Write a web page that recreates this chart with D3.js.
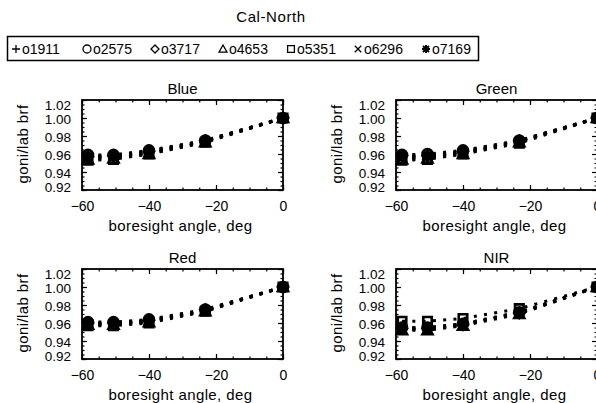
<!DOCTYPE html>
<html><head><meta charset="utf-8">
<script src="https://cdn.jsdelivr.net/npm/d3@7"></script>
<style>
html,body{margin:0;padding:0;background:#fff;}
text{font-family:"Liberation Sans",Arial,sans-serif;fill:#000;}
</style></head>
<body>
<svg id="c" width="596" height="403"></svg>
<script>
// ---------- data ----------
const chartTitle = "Cal-North";
const panelNames = ["Blue", "Green", "Red", "NIR"];
const seriesNames = ["o1911", "o2575", "o3717", "o4653", "o5351", "o6296", "o7169"];
const seriesSymbols = ["plus", "circle", "diamond", "triangle", "square", "x", "asterisk"];
const angles = [-58.2, -50.6, -40.0, -23.2, 0];
const xTickValues = [-60, -40, -20, 0];
const yTickValues = [0.92, 0.94, 0.96, 0.98, 1.00, 1.02];
const xLabel = "boresight angle, deg";
const yLabel = "goni/lab brf";

const blueValues = [
  [0.956, 0.957, 0.962, 0.974, 1.000],
  [0.959, 0.959, 0.964, 0.975, 1.000],
  [0.957, 0.958, 0.963, 0.975, 1.000],
  [0.954, 0.955, 0.960, 0.973, 1.000],
  [0.953, 0.954, 0.960, 0.973, 1.000],
  [0.957, 0.958, 0.962, 0.975, 1.000],
  [0.956, 0.957, 0.961, 0.974, 1.000]
];
const greenValues = [
  [0.956, 0.957, 0.962, 0.974, 1.000],
  [0.959, 0.960, 0.964, 0.975, 1.000],
  [0.958, 0.958, 0.963, 0.975, 1.000],
  [0.954, 0.955, 0.960, 0.973, 1.000],
  [0.953, 0.954, 0.960, 0.972, 1.000],
  [0.957, 0.958, 0.962, 0.974, 1.000],
  [0.956, 0.957, 0.961, 0.974, 1.000]
];
const redValues = [
  [0.959, 0.959, 0.962, 0.974, 1.000],
  [0.961, 0.961, 0.964, 0.975, 1.000],
  [0.960, 0.960, 0.963, 0.975, 1.000],
  [0.958, 0.958, 0.961, 0.973, 1.000],
  [0.957, 0.957, 0.960, 0.973, 1.000],
  [0.959, 0.960, 0.962, 0.974, 1.000],
  [0.958, 0.959, 0.962, 0.974, 1.000]
];
const nirValues = [
  [0.953, 0.953, 0.958, 0.971, 1.000],
  [0.955, 0.955, 0.959, 0.972, 1.000],
  [0.954, 0.954, 0.958, 0.971, 1.000],
  [0.952, 0.952, 0.957, 0.970, 1.000],
  [0.962, 0.962, 0.965, 0.976, 1.000],
  [0.954, 0.955, 0.959, 0.972, 1.000],
  [0.953, 0.953, 0.958, 0.971, 1.000]
];
const panelValues = [blueValues, greenValues, redValues, nirValues];

// ---------- layout ----------
const svg = d3.select("#c");
const panelLeft = [82, 396, 82, 396];
const panelTop = [100, 100, 269, 269];
const PW = 201, PH = 90;

function symPath(type, r) {
  const p = d3.path();
  switch (type) {
    case "plus": p.moveTo(-r,0); p.lineTo(r,0); p.moveTo(0,-r); p.lineTo(0,r); break;
    case "circle": p.moveTo(r,0); p.arc(0,0,r,0,2*Math.PI); break;
    case "diamond": p.moveTo(0,-r); p.lineTo(r,0); p.lineTo(0,r); p.lineTo(-r,0); p.closePath(); break;
    case "triangle": p.moveTo(0,-r); p.lineTo(r,r*0.8); p.lineTo(-r,r*0.8); p.closePath(); break;
    case "square": { const s=r*0.85; p.moveTo(-s,-s); p.lineTo(s,-s); p.lineTo(s,s); p.lineTo(-s,s); p.closePath(); break; }
    case "x": { const s=r*0.8; p.moveTo(-s,-s); p.lineTo(s,s); p.moveTo(s,-s); p.lineTo(-s,s); break; }
    case "asterisk": { const s=r*0.75; p.moveTo(-r,0); p.lineTo(r,0); p.moveTo(0,-r); p.lineTo(0,r);
      p.moveTo(-s,-s); p.lineTo(s,s); p.moveTo(s,-s); p.lineTo(-s,s); break; }
  }
  return p.toString();
}

// title
svg.append("text").attr("x", 271).attr("y", 22).attr("text-anchor", "middle")
  .attr("font-size", 15).attr("letter-spacing", 0.6).text(chartTitle);

// legend
const legendX = [16, 87, 155, 223, 291, 358, 426];
svg.append("rect").attr("x", 7.5).attr("y", 36.5).attr("width", 471).attr("height", 24)
  .attr("fill", "none").attr("stroke", "#000").attr("stroke-width", 1.5);
seriesNames.forEach((n, i) => {
  const g = svg.append("g").attr("transform", `translate(${legendX[i]},49)`);
  g.append("path").attr("d", symPath(seriesSymbols[i], 4)).attr("fill", "none")
    .attr("stroke", "#000").attr("stroke-width", seriesSymbols[i] === "asterisk" ? 2 : 1.3);
  g.append("text").attr("x", 6).attr("y", 5).attr("font-size", 14).text(n);
});

// panels
panelNames.forEach((name, pi) => {
  const L = panelLeft[pi], T = panelTop[pi];
  const x = d3.scaleLinear().domain([-60, 0]).range([L, L + PW]);
  const y = d3.scaleLinear().domain([0.92, 1.02]).range([T + PH, T]);
  const g = svg.append("g");

  const xMinor = d3.range(-60, 0.1, 5);
  const yMinor = d3.range(0.92, 1.0201, 0.005);
  const ax = [
    g.append("g").attr("transform", `translate(0,${T+PH})`).call(d3.axisBottom(x).tickValues(xMinor).tickSize(-2.5).tickFormat("")),
    g.append("g").attr("transform", `translate(0,${T})`).call(d3.axisTop(x).tickValues(xMinor).tickSize(-2.5).tickFormat("")),
    g.append("g").attr("transform", `translate(${L},0)`).call(d3.axisLeft(y).tickValues(yMinor).tickSize(-2.5).tickFormat("")),
    g.append("g").attr("transform", `translate(${L+PW},0)`).call(d3.axisRight(y).tickValues(yMinor).tickSize(-2.5).tickFormat("")),
    g.append("g").attr("transform", `translate(0,${T})`).call(d3.axisTop(x).tickValues(xTickValues).tickSize(-5).tickFormat("")),
    g.append("g").attr("transform", `translate(${L+PW},0)`).call(d3.axisRight(y).tickValues(yTickValues).tickSize(-5).tickFormat(""))
  ];
  const xa = g.append("g").attr("transform", `translate(0,${T+PH})`)
    .call(d3.axisBottom(x).tickValues(xTickValues).tickSize(-5).tickPadding(11)
      .tickFormat(d => d === 0 ? "0" : "\u2212" + Math.abs(d)));
  const ya = g.append("g").attr("transform", `translate(${L},0)`)
    .call(d3.axisLeft(y).tickValues(yTickValues).tickSize(-5).tickPadding(11).tickFormat(d3.format(".2f")));
  [...ax, xa, ya].forEach(a => {
    a.select(".domain").remove();
    a.selectAll("line").attr("stroke", "#000").attr("stroke-width", 1.2);
    a.selectAll("text").attr("font-size", 14).attr("font-family", "Liberation Sans, Arial, sans-serif").attr("fill", "#000");
  });
  xa.selectAll("text").attr("dy", "0.71em");
  ya.selectAll("text").attr("font-size", 13.5)
    .attr("dy", d => d === 1.02 ? "0.68em" : d === 0.92 ? "0.12em" : "0.42em");

  g.append("rect").attr("x", L).attr("y", T).attr("width", PW).attr("height", PH)
    .attr("fill", "none").attr("stroke", "#000").attr("stroke-width", 1.8);

  g.append("text").attr("x", L + PW / 2).attr("y", T - 6).attr("text-anchor", "middle")
    .attr("font-size", 15).text(name);
  g.append("text").attr("x", L + PW / 2 - 2).attr("y", T + PH + 41).attr("text-anchor", "middle")
    .attr("font-size", 15).attr("letter-spacing", 0.4).text(xLabel);
  g.append("text").attr("transform", `translate(${L - 54},${T + PH / 2 - 1}) rotate(-90)`)
    .attr("text-anchor", "middle").attr("font-size", 15).attr("letter-spacing", 0.4).text(yLabel);

  const line = d3.line().x((d, i) => x(angles[i])).y(d => y(d));
  panelValues[pi].forEach((vals, si) => {
    g.append("path").attr("d", line(vals)).attr("fill", "none").attr("stroke", "#000")
      .attr("stroke-width", 3).attr("stroke-dasharray", "3,7.3");
    vals.forEach((v, k) => {
      g.append("path").attr("transform", `translate(${x(angles[k])},${y(v)})`)
        .attr("d", symPath(seriesSymbols[si], 5)).attr("fill", "none")
        .attr("stroke", "#000").attr("stroke-width", 2.6);
    });
  });
});
</script>
</body></html>
